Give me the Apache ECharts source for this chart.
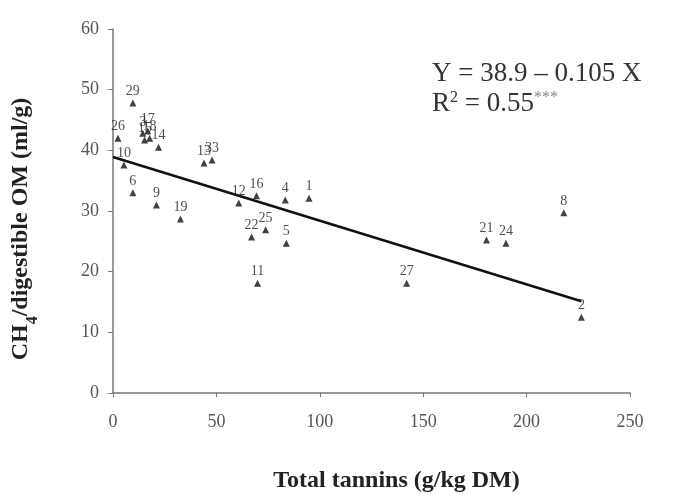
<!DOCTYPE html>
<html>
<head>
<meta charset="utf-8">
<script src="https://cdn.jsdelivr.net/npm/echarts@6/dist/echarts.min.js"></script>
<style>
  html, body { margin: 0; padding: 0; background: #fff; }
  #chart { width: 680px; height: 498px; }
</style>
</head>
<body>
<div id="chart"></div>
<script>
// values
let sampleIds = ["29", "26", "3", "17", "18", "15", "14", "10", "6", "9", "19", "13", "33", "12", "16", "4", "1", "22", "25", "5", "11", "27", "21", "24", "8", "2"];
let tannins   = [9.6, 2.4, 14.4, 16.8, 17.7, 15.3, 22, 5.3, 9.6, 21, 32.6, 44, 47.9, 60.8, 69.4, 83.3, 94.8, 67, 73.8, 83.8, 69.9, 142, 180.6, 190, 218, 226.5];
let methane   = [47.8, 42.0, 42.8, 43.2, 42.0, 41.7, 40.5, 37.6, 33.0, 31.0, 28.7, 37.9, 38.4, 31.3, 32.5, 31.8, 32.1, 25.7, 26.9, 24.7, 18.1, 18.1, 25.2, 24.7, 29.7, 12.5];
let xTicks = [0, 50, 100, 150, 200, 250];
let yTicks = [0, 10, 20, 30, 40, 50, 60];

// regression Y = 38.9 - 0.105 X
let intercept = 38.9;
let slope = -0.105;

let d = document;
let serif = "Liberation Serif";

window.onload = (e) => {
  let chart = echarts.init(d.getElementById("chart"));

  let pts = tannins.map((x, i) => ({ value: [x, methane[i]], id: sampleIds[i] }));
  let xEnd = Math.max(...tannins);
  let fit = [[0, intercept], [xEnd, intercept + slope * xEnd]];

  chart.setOption({
    backgroundColor: "#fff",
    animation: false,
    grid: { left: 113, right: 50, top: 29, bottom: 105, containLabel: false, outerBoundsMode: "none" },
    xAxis: {
      type: "value",
      min: xTicks[0], max: xTicks[xTicks.length - 1], interval: 50,
      splitLine: { show: false },
      axisLine: { lineStyle: { color: "#777", width: 1.5 } },
      axisTick: { show: true, length: 4, lineStyle: { color: "#777" } },
      axisLabel: { color: "#555", fontFamily: serif, fontSize: 18, margin: 20 },
      name: "Total tannins (g/kg DM)",
      nameLocation: "middle",
      nameGap: 76,
      nameTextStyle: { color: "#222", fontFamily: serif, fontSize: 24, fontWeight: "bold", padding: [0, 0, 0, 50] }
    },
    yAxis: {
      type: "value",
      min: yTicks[0], max: yTicks[yTicks.length - 1], interval: 10,
      splitLine: { show: false },
      axisLine: { show: true, lineStyle: { color: "#777", width: 1.5 } },
      axisTick: { show: true, length: 5, lineStyle: { color: "#777" } },
      axisLabel: { color: "#555", fontFamily: serif, fontSize: 18, margin: 14 },
      name: "{a|CH}{s|4}{a|/digestible OM (ml/g)}",
      nameLocation: "middle",
      nameGap: 80,
      nameRotate: 90,
      nameTextStyle: {
        padding: [0, 36, 0, 0],
        rich: {
          a: { color: "#222", fontFamily: serif, fontSize: 24, fontWeight: "bold" },
          s: { color: "#222", fontFamily: serif, fontSize: 16, fontWeight: "bold", verticalAlign: "bottom", padding: [0, 0, -8, 0] }
        }
      }
    },
    series: [
      {
        type: "line",
        data: fit,
        symbol: "none",
        lineStyle: { color: "#111", width: 2.5 },
        z: 3
      },
      {
        type: "scatter",
        data: pts,
        symbol: "triangle",
        symbolSize: 7,
        itemStyle: { color: "#111" },
        label: {
          show: true,
          position: "top",
          distance: 1,
          formatter: (p) => p.data.id,
          color: "#222",
          fontFamily: serif,
          fontSize: 14
        },
        z: 4
      }
    ],
    graphic: [
      {
        type: "text",
        left: 432, top: 60,
        style: {
          text: "Y = 38.9 \u2013 0.105 X",
          fill: "#333",
          font: "27px " + serif
        }
      },
      {
        type: "text",
        left: 432, top: 90,
        style: {
          text: "{a|R}{s|2}{a| = 0.55}{t|***}",
          rich: {
            a: { fill: "#333", fontFamily: serif, fontSize: 27 },
            s: { fill: "#333", fontFamily: serif, fontSize: 16, verticalAlign: "top", padding: [0, 0, 12, 0] },
            t: { fill: "#888", fontFamily: serif, fontSize: 16, verticalAlign: "top", padding: [0, 0, 10, 0] }
          }
        }
      }
    ]
  });
};
</script>
</body>
</html>
